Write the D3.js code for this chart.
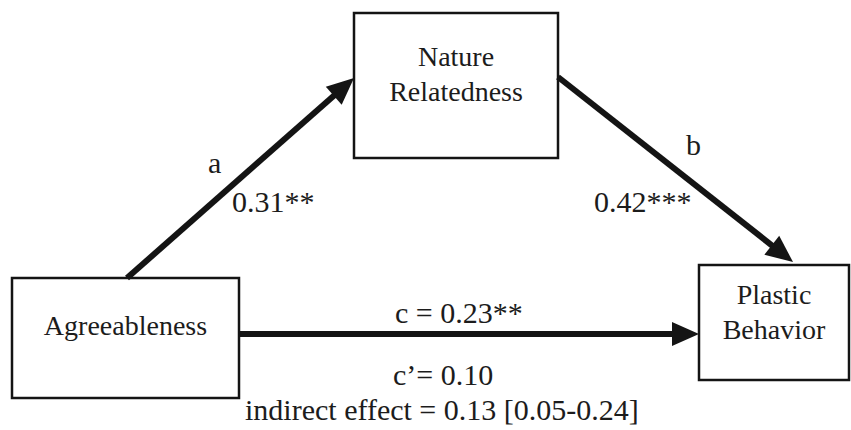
<!DOCTYPE html>
<html>
<head>
<meta charset="utf-8">
<script src="https://cdn.jsdelivr.net/npm/d3@7"></script>
<style>
  body { margin: 0; background: #fff; }
  text { font-family: "Liberation Serif", "Times New Roman", serif; fill: #1c1c1c; }
</style>
</head>
<body>
<script>
// variables and their labels
const nodeIds = ["X", "M", "Y"];
const nodeLabels = [["Agreeableness"], ["Nature", "Relatedness"], ["Plastic", "Behavior"]];

// paths and coefficients
const pathNames = ["a", "b", "c"];
const pathFrom = ["X", "M", "X"];
const pathTo = ["M", "Y", "Y"];
const pathCoefs = ["0.31**", "0.42***", "c = 0.23**"];
const cPrime = "c\u2019= 0.10";
const indirect = "indirect effect = 0.13 [0.05-0.24]";

// layout of the diagram (pixels)
const width = 851, height = 430;
const boxes = {
    X: { x: 12, y: 278, w: 227, h: 120, lineY: [335] },
    M: { x: 354, y: 13, w: 204, h: 145, lineY: [66, 101] },
    Y: { x: 699, y: 265, w: 150, h: 115, lineY: [304, 339] }
};
// start and tip points of each arrow
const ends = {
    a: [[127, 278], [354, 78]],
    b: [[558, 77], [793, 262]],
    c: [[239, 334], [699, 334]]
};

const svg = d3.select("body").append("svg")
    .attr("width", width)
    .attr("height", height);

const ink = "#141414";

// arrows
const headLen = 27, headHalf = 12, lineW = 6;
pathNames.forEach(p => {
    const [s, t] = ends[p];
    const dx = t[0] - s[0], dy = t[1] - s[1];
    const len = Math.hypot(dx, dy);
    const ux = dx / len, uy = dy / len;
    const bx = t[0] - ux * headLen, by = t[1] - uy * headLen;
    svg.append("line")
        .attr("x1", s[0]).attr("y1", s[1])
        .attr("x2", bx + ux * 2).attr("y2", by + uy * 2)
        .attr("stroke", ink)
        .attr("stroke-width", lineW);
    svg.append("path")
        .attr("d", d3.line()([
            [t[0], t[1]],
            [bx - uy * headHalf, by + ux * headHalf],
            [bx + uy * headHalf, by - ux * headHalf]
        ]) + "Z")
        .attr("fill", ink);
});

// boxes
nodeIds.forEach((id, i) => {
    const b = boxes[id];
    svg.append("rect")
        .attr("x", b.x).attr("y", b.y)
        .attr("width", b.w).attr("height", b.h)
        .attr("fill", "none")
        .attr("stroke", ink)
        .attr("stroke-width", 2.5);
    nodeLabels[i].forEach((line, j) => {
        svg.append("text")
            .attr("x", b.x + b.w / 2)
            .attr("y", b.lineY[j])
            .attr("text-anchor", "middle")
            .attr("font-size", 28)
            .text(line);
    });
});

// path labels
const labelPos = [
    { t: pathNames[0], x: 208, y: 173 },
    { t: pathCoefs[0], x: 232, y: 212 },
    { t: pathNames[1], x: 686, y: 155 },
    { t: pathCoefs[1], x: 594, y: 212 },
    { t: pathCoefs[2], x: 395, y: 323 },
    { t: cPrime, x: 393, y: 385 },
    { t: indirect, x: 245, y: 420 }
];
svg.selectAll("text.lab")
    .data(labelPos)
    .join("text")
    .attr("class", "lab")
    .attr("x", d => d.x)
    .attr("y", d => d.y)
    .attr("font-size", 30)
    .text(d => d.t);
</script>
</body>
</html>
